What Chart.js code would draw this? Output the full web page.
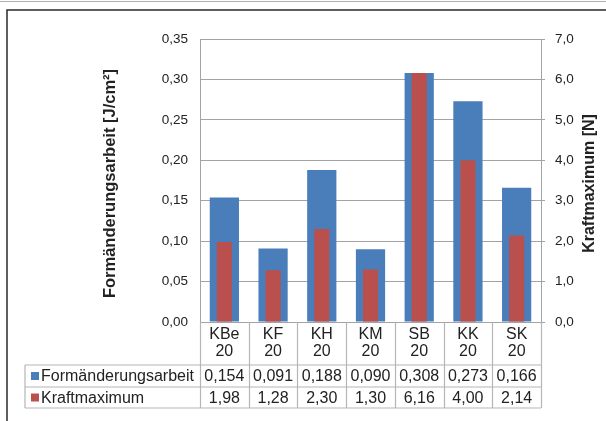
<!DOCTYPE html>
<html>
<head>
<meta charset="utf-8">
<script src="https://cdn.jsdelivr.net/npm/chart.js@4"></script>
<style>
  body { margin: 0; background: #fff; }
  canvas { display: block; }
</style>
</head>
<body>
<canvas id="chart" width="606" height="421"></canvas>
<script>
// Probenbezeichnungen (zweizeilig in der Tabelle)
const categories = [['KBe', '20'], ['KF', '20'], ['KH', '20'], ['KM', '20'], ['SB', '20'], ['KK', '20'], ['SK', '20']];
const formArbeit = [0.154, 0.091, 0.188, 0.090, 0.308, 0.273, 0.166];
const kraftMax = [1.98, 1.28, 2.30, 1.30, 6.16, 4.00, 2.14];
const seriesNames = ['Formänderungsarbeit', 'Kraftmaximum'];
const axisTitles = ['Formänderungsarbeit [J/cm²]', 'Kraftmaximum [N]'];

const BLUE = '#4a7ebb';
const RED = '#b9504d';
const GRID = '#a3a3a3';
const TEXT = '#222';
const FONT = '"Liberation Sans", Arial, sans-serif';

const comma = (v, d) => Number(v).toFixed(d).replace('.', ',');

// Rahmen, Achsentitel und Datentabelle unter dem Diagramm
const tablePlugin = {
  id: 'dataTable',
  beforeDraw(chart) {
    const ctx = chart.ctx;
    ctx.save();
    ctx.fillStyle = '#fff';
    ctx.fillRect(0, 0, chart.width, chart.height);
    ctx.strokeStyle = '#b0b0b0';
    ctx.lineWidth = 1;
    ctx.beginPath();
    ctx.moveTo(0, 1.5); ctx.lineTo(chart.width, 1.5);
    ctx.stroke();
    ctx.strokeStyle = '#2a2a2a';
    ctx.lineWidth = 1.5;
    ctx.beginPath();
    ctx.moveTo(7, chart.height); ctx.lineTo(7, 10); ctx.lineTo(chart.width, 10);
    ctx.stroke();
    ctx.restore();
  },
  afterDraw(chart) {
    const ctx = chart.ctx;
    const area = chart.chartArea;
    const x = chart.scales.x;
    const step = area.width / categories.length;
    const midY = (area.top + area.bottom) / 2 + 3;

    ctx.save();
    // Achsentitel
    ctx.fillStyle = TEXT;
    ctx.textAlign = 'center';
    ctx.textBaseline = 'middle';
    ctx.save();
    ctx.font = 'bold 16.5px ' + FONT;
    ctx.translate(110, midY);
    ctx.rotate(-Math.PI / 2);
    ctx.fillText(axisTitles[0], 0, 0);
    ctx.restore();
    ctx.save();
    ctx.font = 'bold 16px ' + FONT;
    ctx.translate(590, midY);
    ctx.rotate(-Math.PI / 2);
    ctx.fillText(axisTitles[1], 0, 0);
    ctx.restore();

    // Tabelle
    const top = area.bottom;
    const row1 = top + 43;
    const row2 = row1 + 22;
    const bottom = row2 + 21;
    const tableLeft = 25;

    ctx.strokeStyle = '#b5b5b5';
    ctx.lineWidth = 1.2;
    ctx.beginPath();
    ctx.moveTo(tableLeft, row1); ctx.lineTo(area.right, row1);
    ctx.moveTo(tableLeft, row2); ctx.lineTo(area.right, row2);
    ctx.moveTo(tableLeft, bottom); ctx.lineTo(area.right, bottom);
    ctx.moveTo(tableLeft, row1); ctx.lineTo(tableLeft, bottom);
    for (let i = 0; i <= categories.length; i++) {
      const bx = Math.round(area.left + i * step) + 0.5;
      ctx.moveTo(bx, top); ctx.lineTo(bx, bottom);
    }
    ctx.stroke();

    ctx.fillStyle = TEXT;
    ctx.textAlign = 'center';
    ctx.textBaseline = 'middle';
    categories.forEach((lines, i) => {
      const cx = x.getPixelForValue(i);
      ctx.font = '16px ' + FONT;
      ctx.fillText(lines[0], cx, top + 13);
      ctx.fillText(lines[1], cx, top + 30);
      ctx.fillText(comma(formArbeit[i], 3), cx, (row1 + row2) / 2 + 1);
      ctx.fillText(comma(kraftMax[i], 2), cx, (row2 + bottom) / 2 + 1);
    });

    // Legendenschlüssel
    ctx.textAlign = 'left';
    ctx.font = '16px ' + FONT;
    [[BLUE, row1, row2], [RED, row2, bottom]].forEach(([c, a, b], k) => {
      const cy = (a + b) / 2;
      ctx.fillStyle = c;
      ctx.fillRect(31, cy - 4, 8, 8);
      ctx.fillStyle = TEXT;
      ctx.fillText(seriesNames[k], 41, cy + 1);
    });
    ctx.restore();
  }
};

new Chart(document.getElementById('chart'), {
  type: 'bar',
  data: {
    labels: categories.map(c => c.join(' ')),
    datasets: [
      {
        label: seriesNames[0],
        data: formArbeit,
        yAxisID: 'y',
        backgroundColor: BLUE,
        grouped: false,
        order: 2,
        categoryPercentage: 1,
        barPercentage: 0.6
      },
      {
        label: seriesNames[1],
        data: kraftMax,
        yAxisID: 'y1',
        backgroundColor: RED,
        grouped: false,
        order: 1,
        categoryPercentage: 1,
        barPercentage: 0.31
      }
    ]
  },
  options: {
    responsive: false,
    animation: false,
    layout: { padding: { top: 39, bottom: 99, left: 0, right: 0 } },
    plugins: { legend: { display: false }, tooltip: { enabled: false } },
    scales: {
      x: { display: false },
      y: {
        position: 'left',
        min: 0,
        max: 0.35,
        afterFit: s => { s.width = 200; },
        ticks: {
          stepSize: 0.05,
          padding: 12,
          color: TEXT,
          font: { family: FONT, size: 13.5 },
          callback: v => comma(v, 2)
        },
        grid: { color: GRID, drawTicks: false },
        border: { color: GRID }
      },
      y1: {
        position: 'right',
        min: 0,
        max: 7,
        afterFit: s => { s.width = 65; },
        ticks: {
          stepSize: 1,
          padding: 10,
          color: TEXT,
          font: { family: FONT, size: 13.5 },
          callback: v => comma(v, 1)
        },
        grid: { drawOnChartArea: false, tickLength: 4, color: GRID },
        border: { color: GRID }
      }
    }
  },
  plugins: [tablePlugin]
});
</script>
</body>
</html>
